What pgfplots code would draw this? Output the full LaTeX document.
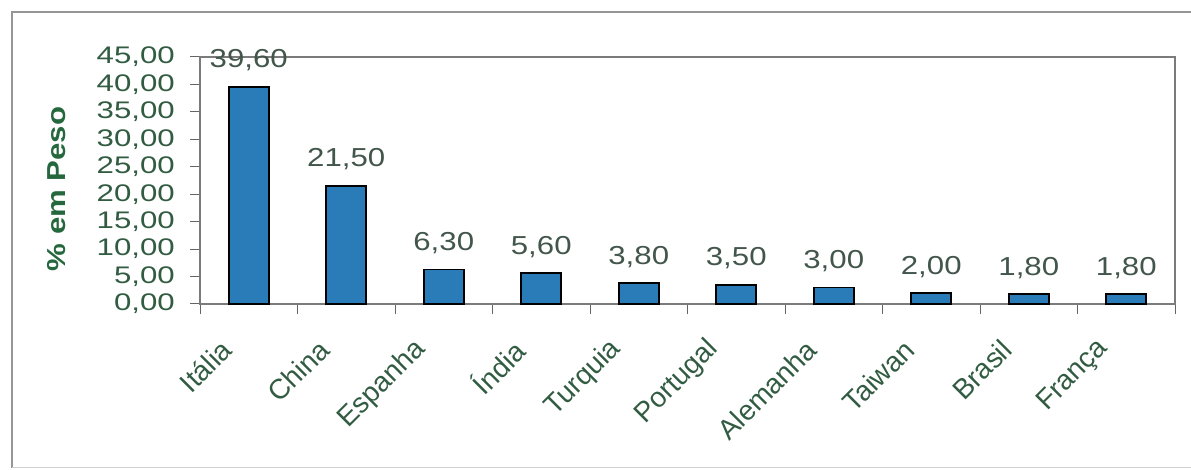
\documentclass[border=0pt]{standalone}
\usepackage{pgfplots}
\pgfplotsset{compat=1.18}
\usepackage{pgfplotstable}
\usepackage{graphicx}
\usepackage{fontspec}
\setmainfont{Liberation Sans}

\definecolor{barblue}{RGB}{42,124,184}
\definecolor{tickgreen}{RGB}{50,92,66}
\definecolor{labelgreen}{RGB}{38,104,62}
\definecolor{valgray}{RGB}{66,86,76}
\definecolor{framegray}{RGB}{150,150,150}
\definecolor{axisgray}{RGB}{100,100,100}

% share of each country, % by weight
\pgfplotstableread{
idx pct
0 39.6
1 21.5
2 6.3
3 5.6
4 3.8
5 3.5
6 3.0
7 2.0
8 1.8
9 1.8
}\shares

\begin{document}
\begin{tikzpicture}[x=1pt,y=1pt]
% outer frame of the chart
\draw[framegray, line width=1.2pt] (12,2) -- (12,458) -- (1191,458);
\draw[framegray!45, line width=1pt] (12,2) -- (1191,2);
\begin{axis}[
  at={(200pt,166pt)}, anchor=south west,
  scale only axis, width=975pt, height=247pt,
  xmin=-0.5, xmax=9.5, ymin=0, ymax=45,
  clip=false,
  ybar, bar width=40pt,
  ytick={0,5,...,45},
  xtick={0,...,9},
  xticklabels={Itália, China, Espanha, Índia, Turquia, Portugal, Alemanha, Taiwan, Brasil, França},
  minor xtick={-0.5,0.5,...,9.5},
  major x tick style={draw=none},
  tick align=outside,
  xtick pos=bottom, ytick pos=left,
  major tick length=10pt, minor tick length=10pt,
  tick style={axisgray, line width=1pt},
  axis line style={axisgray!85, line width=1.3pt},
  yticklabel={\scalebox{1.3}[1]{\pgfmathprintnumber[fixed,fixed zerofill,precision=2,use comma,assume math mode=true]{\tick}}},
  yticklabel style={font=\fontsize{24}{26}\selectfont, color=tickgreen, inner sep=0pt, anchor=east, xshift=-15pt},
  xticklabel style={font=\fontsize{28}{30}\selectfont, color=tickgreen, inner sep=0pt, anchor=east,
    xshift=-22pt, yshift=-31pt, rotate=45},
  ylabel={\scalebox{1.2}[1]{\bfseries\% em Peso}},
  ylabel style={font=\fontsize{26}{28}\selectfont, color=labelgreen,
    at={(axis description cs:-0.147,0.4656)}, anchor=center},
  point meta=y,
  nodes near coords={\scalebox{1.2}[1]{\pgfmathprintnumber[fixed,fixed zerofill,precision=2,use comma,assume math mode=true]{\pgfplotspointmeta}}},
  nodes near coords style={font=\fontsize{26}{28}\selectfont, color=valgray, inner sep=0pt, anchor=base, yshift=19pt},
]
\addplot[fill=barblue, draw=black, line width=1.8pt] table[x=idx, y=pct]{\shares};
\end{axis}
\pgfresetboundingbox
\path[use as bounding box] (0pt,0pt) rectangle (1191pt,470pt);
\end{tikzpicture}
\end{document}
